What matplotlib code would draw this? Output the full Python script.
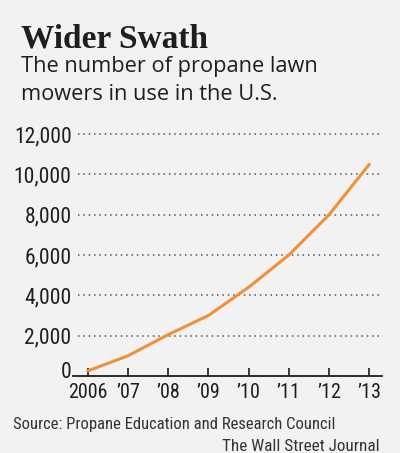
import matplotlib
matplotlib.use("Agg")
import matplotlib.pyplot as plt
import matplotlib.transforms as mtransforms

# propane lawn mowers in use in the U.S.
years = [2006, 2007, 2008, 2009, 2010, 2011, 2012, 2013]
mowers = [250, 1000, 2050, 3000, 4400, 6000, 8000, 10500]
year_labels = ["2006", "\u201907", "\u201908", "\u201909", "\u201910", "\u201911", "\u201912", "\u201913"]
y_ticks = [0, 2000, 4000, 6000, 8000, 10000, 12000]

bg = "#f2f2f2"
ink = "#1e1e1e"
orange = "#f0913a"

fig = plt.figure(figsize=(4.0, 4.53), dpi=100, facecolor=bg)
ax = fig.add_axes([0.1825, 0.170, 0.7725, 0.534], facecolor=bg)

ax.plot(years, mowers, color=orange, lw=2.2, solid_capstyle="round", zorder=3)

ax.set_xlim(2005.635, 2013.316)
ax.set_ylim(0, 12000)

ax.set_yticks(y_ticks)
ax.set_yticklabels([f"{v:,}" for v in y_ticks])
ax.set_xticks(years)
ax.set_xticklabels(year_labels)

narrow = ["Liberation Sans Narrow", "Roboto Condensed", "DejaVu Sans"]
for lab in ax.get_yticklabels():
    lab.set_fontfamily(narrow)
    lab.set_fontsize(15.5)
    lab.set_color(ink)
for lab in ax.get_xticklabels():
    lab.set_fontfamily(narrow)
    lab.set_fontsize(14.5)
    lab.set_color(ink)

ax.tick_params(axis="y", length=0, pad=1)
ax.tick_params(axis="x", direction="in", length=6, width=1.2, color=ink, pad=5)

# the zero label sits on the baseline, a bit above the year labels
zero_lab = ax.yaxis.get_major_ticks()[0].label1
zero_lab.set_transform(zero_lab.get_transform() +
                       mtransforms.ScaledTranslation(0, 6 / 100, fig.dpi_scale_trans))

for v in y_ticks[1:]:
    ax.plot([2005.76, 2013.316], [v, v], color="#555555", lw=1.1,
            linestyle=(0, (1, 2.5)), zorder=1, clip_on=False)

for s in ["top", "right", "left"]:
    ax.spines[s].set_visible(False)
ax.spines["bottom"].set_color(ink)
ax.spines["bottom"].set_linewidth(1.3)

fig.text(21 / 400, 1 - 47 / 453, "Wider Swath", family="Liberation Serif",
         weight="bold", size=24, color=ink, va="baseline")
fig.text(21 / 400, 1 - 72 / 453, "The number of propane lawn", family="Open Sans",
         size=15.7, color=ink, va="baseline")
fig.text(21 / 400, 1 - 100 / 453, "mowers in use in the U.S.", family="Open Sans",
         size=15.7, color=ink, va="baseline")

fig.text(13 / 400, 1 - 429 / 453, "Source: Propane Education and Research Council",
         family=narrow, size=12, color="#333333", va="baseline")
fig.text(380 / 400, 1 - 451 / 453, "The Wall Street Journal",
         family=narrow, size=12.3, color="#333333", va="baseline", ha="right")

fig.savefig("out.png", dpi=100, facecolor=bg)
